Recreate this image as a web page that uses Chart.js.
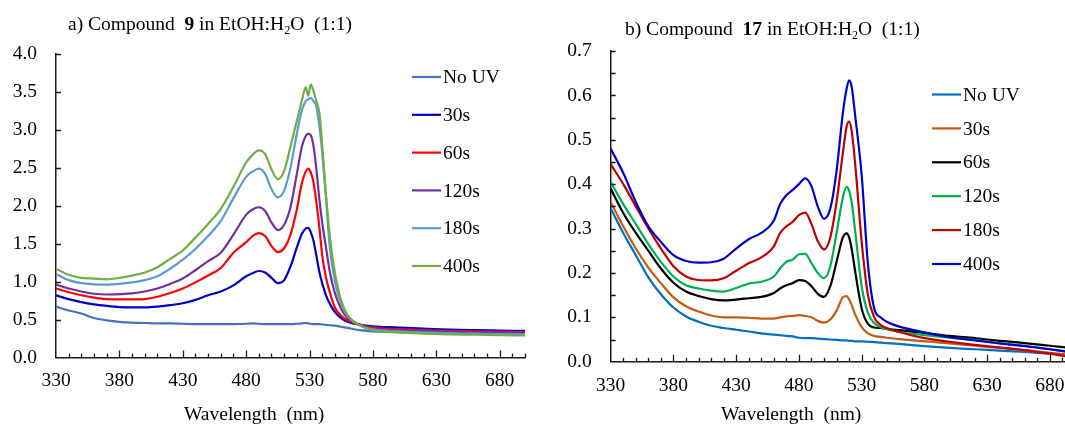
<!DOCTYPE html>
<html>
<head>
<meta charset="utf-8">
<script src="https://cdn.jsdelivr.net/npm/chart.js@4"></script>
<style>
  html, body { margin: 0; padding: 0; background: #fff; overflow: hidden; width: 1065px; height: 427px; }
  .panel { position: absolute; top: 0; height: 427px; }
  #wrapA { left: 0; width: 530px; }
  #wrapB { left: 525px; width: 555px; }
  .txt { position: absolute; font-family: 'Liberation Serif', 'Times New Roman', serif; font-size: 19.5px; color: #000; white-space: nowrap; line-height: 1; }
  .txt sub { font-size: 0.62em; vertical-align: -0.3em; line-height: 0; }
</style>
</head>
<body>
<div class="panel" id="wrapA"><canvas id="chartA" width="530" height="427"></canvas></div>
<div class="panel" id="wrapB"><canvas id="chartB" width="555" height="427"></canvas></div>

<div class="txt" style="left:68px; top:14px;">a) Compound&nbsp; <b>9</b> in EtOH:H<sub>2</sub>O&nbsp; (1:1)</div>
<div class="txt" style="left:625px; top:19px;">b) Compound&nbsp; <b>17</b> in EtOH:H<sub>2</sub>O&nbsp; (1:1)</div>
<div class="txt" style="left:184px; top:404px;">Wavelength&nbsp; (nm)</div>
<div class="txt" style="left:721px; top:404px;">Wavelength&nbsp; (nm)</div>

<script>
// ---- panel a: compound 9 ----
const wavelengthsA = [330, 340, 350, 360, 370, 380, 390, 400, 410, 420, 430, 440, 450, 460, 470, 480, 485, 490, 495, 500,
  505, 510, 515, 520, 524, 527, 529, 531, 533, 535, 538, 540, 543, 546, 550, 555, 560, 570, 580, 600, 620, 640, 660, 680, 700];
const noUvA = [0.67, 0.62, 0.58, 0.52, 0.49, 0.47, 0.46, 0.455, 0.45, 0.45, 0.445, 0.44, 0.44, 0.44, 0.44, 0.445, 0.45, 0.445, 0.44, 0.44,
  0.44, 0.44, 0.44, 0.445, 0.45, 0.455, 0.45, 0.445, 0.44, 0.44, 0.44, 0.435, 0.43, 0.425, 0.42, 0.405, 0.39, 0.36, 0.345, 0.335, 0.33, 0.325, 0.32, 0.315, 0.31];
const s30A = [0.82, 0.77, 0.73, 0.70, 0.68, 0.665, 0.66, 0.66, 0.67, 0.69, 0.715, 0.76, 0.82, 0.87, 0.95, 1.07, 1.11, 1.14, 1.12, 1.05,
  0.98, 1.02, 1.20, 1.45, 1.63, 1.70, 1.71, 1.65, 1.55, 1.38, 1.11, 0.98, 0.82, 0.71, 0.60, 0.52, 0.47, 0.43, 0.41, 0.395, 0.38, 0.367, 0.36, 0.355, 0.35];
const s60A = [0.91, 0.86, 0.82, 0.79, 0.77, 0.765, 0.765, 0.77, 0.80, 0.85, 0.91, 0.99, 1.08, 1.18, 1.38, 1.52, 1.60, 1.64, 1.60, 1.47,
  1.39, 1.44, 1.62, 1.95, 2.30, 2.45, 2.49, 2.44, 2.32, 2.10, 1.68, 1.35, 1.05, 0.86, 0.66, 0.55, 0.49, 0.43, 0.395, 0.375, 0.36, 0.35, 0.345, 0.34, 0.335];
const s120A = [0.96, 0.91, 0.87, 0.84, 0.83, 0.835, 0.845, 0.87, 0.91, 0.97, 1.04, 1.15, 1.27, 1.38, 1.62, 1.88, 1.95, 1.98, 1.93, 1.78,
  1.68, 1.75, 1.98, 2.42, 2.78, 2.92, 2.95, 2.93, 2.80, 2.55, 2.05, 1.78, 1.45, 1.13, 0.85, 0.64, 0.52, 0.43, 0.38, 0.36, 0.35, 0.34, 0.335, 0.33, 0.325];
const s180A = [1.10, 1.02, 0.98, 0.965, 0.96, 0.97, 0.99, 1.02, 1.07, 1.17, 1.29, 1.43, 1.60, 1.80, 2.10, 2.38, 2.45, 2.49, 2.42, 2.22,
  2.11, 2.20, 2.50, 2.95, 3.26, 3.38, 3.40, 3.42, 3.38, 3.33, 3.02, 2.70, 2.10, 1.45, 1.00, 0.70, 0.55, 0.42, 0.37, 0.345, 0.33, 0.32, 0.315, 0.31, 0.305];
const s400A = [1.17, 1.09, 1.05, 1.04, 1.03, 1.05, 1.08, 1.12, 1.19, 1.30, 1.41, 1.58, 1.76, 1.96, 2.25, 2.57, 2.67, 2.73, 2.68, 2.48,
  2.35, 2.46, 2.78, 3.12, 3.39, 3.56, 3.45, 3.60, 3.52, 3.40, 3.20, 2.80, 2.15, 1.60, 1.12, 0.75, 0.56, 0.42, 0.36, 0.33, 0.315, 0.305, 0.30, 0.295, 0.29];
const xTicksA = [330, 380, 430, 480, 530, 580, 630, 680];
const yTicksA = [0, 0.5, 1.0, 1.5, 2.0, 2.5, 3.0, 3.5, 4.0];

// ---- panel b: compound 17 ----
const wavelengthsB = [330, 340, 350, 360, 370, 380, 390, 400, 410, 420, 430, 440, 450, 460, 465, 470, 475, 480, 485, 490, 495, 500,
  505, 510, 515, 518, 520, 522, 525, 530, 535, 540, 545, 550, 560, 580, 600, 620, 640, 660, 680, 700];
const noUvB = [0.345, 0.29, 0.24, 0.19, 0.152, 0.122, 0.102, 0.09, 0.081, 0.076, 0.072, 0.068, 0.064, 0.061, 0.06, 0.058, 0.057, 0.054, 0.053, 0.053, 0.052, 0.051,
  0.05, 0.049, 0.048, 0.048, 0.047, 0.047, 0.046, 0.046, 0.045, 0.044, 0.043, 0.042, 0.04, 0.035, 0.031, 0.028, 0.025, 0.022, 0.018, 0.014];
const s30B = [0.36, 0.305, 0.255, 0.212, 0.177, 0.145, 0.125, 0.113, 0.104, 0.10, 0.10, 0.099, 0.097, 0.097, 0.10, 0.102, 0.103, 0.105, 0.103, 0.10, 0.092, 0.088,
  0.095, 0.115, 0.145, 0.148, 0.14, 0.128, 0.105, 0.078, 0.064, 0.058, 0.056, 0.054, 0.051, 0.046, 0.041, 0.036, 0.031, 0.026, 0.02, 0.014];
const s60B = [0.39, 0.335, 0.29, 0.25, 0.21, 0.178, 0.158, 0.148, 0.141, 0.138, 0.14, 0.143, 0.146, 0.155, 0.165, 0.172, 0.177, 0.184, 0.182, 0.17, 0.153, 0.146,
  0.17, 0.225, 0.28, 0.289, 0.28, 0.255, 0.20, 0.12, 0.085, 0.077, 0.076, 0.074, 0.071, 0.065, 0.058, 0.053, 0.047, 0.042, 0.036, 0.03];
const s120B = [0.405, 0.355, 0.31, 0.265, 0.225, 0.192, 0.172, 0.165, 0.16, 0.158, 0.166, 0.176, 0.18, 0.192, 0.21, 0.225, 0.23, 0.242, 0.243, 0.222, 0.20, 0.188,
  0.215, 0.29, 0.37, 0.394, 0.385, 0.36, 0.29, 0.17, 0.11, 0.087, 0.078, 0.073, 0.067, 0.06, 0.054, 0.049, 0.042, 0.036, 0.028, 0.02];
const s180B = [0.445, 0.40, 0.35, 0.30, 0.255, 0.215, 0.192, 0.184, 0.183, 0.188, 0.205, 0.222, 0.235, 0.26, 0.29, 0.305, 0.315, 0.33, 0.336, 0.31, 0.272, 0.253,
  0.28, 0.36, 0.47, 0.53, 0.541, 0.52, 0.44, 0.27, 0.15, 0.10, 0.083, 0.076, 0.067, 0.053, 0.045, 0.038, 0.032, 0.026, 0.018, 0.009];
const s400B = [0.48, 0.425, 0.36, 0.305, 0.27, 0.24, 0.227, 0.223, 0.224, 0.232, 0.255, 0.276, 0.29, 0.318, 0.355, 0.375, 0.387, 0.40, 0.413, 0.395, 0.35, 0.322,
  0.345, 0.43, 0.56, 0.615, 0.634, 0.62, 0.55, 0.42, 0.22, 0.12, 0.10, 0.09, 0.079, 0.066, 0.055, 0.048, 0.041, 0.035, 0.028, 0.02];
const xTicksB = [330, 380, 430, 480, 530, 580, 630, 680];
const yTicksB = [0, 0.1, 0.2, 0.3, 0.4, 0.5, 0.6, 0.7];

const seriesLabels = ['No UV', '30s', '60s', '120s', '180s', '400s'];
const FONT = "'Liberation Serif', 'Times New Roman', serif";
const AXIS = '#1a1a1a';

// ticks drawn on the inside of the axes, like the Excel original
const insideTicks = {
  id: 'insideTicks',
  afterDraw(chart, args, o) {
    const { ctx, chartArea, scales: { x, y } } = chart;
    ctx.save();
    ctx.strokeStyle = AXIS;
    ctx.lineWidth = 1.3;
    ctx.beginPath();
    const nx = Math.round((x.max - x.min) / o.xMinor);
    for (let i = 1; i <= nx; i++) {
      const px = Math.round(x.getPixelForValue(x.min + i * o.xMinor)) + 0.5;
      const len = (i * o.xMinor) % o.xMajor === 0 ? 7 : 4;
      ctx.moveTo(px, chartArea.bottom);
      ctx.lineTo(px, chartArea.bottom - len);
    }
    const ny = Math.round((y.max - y.min) / o.yStep);
    for (let j = 1; j <= ny; j++) {
      const py = Math.round(y.getPixelForValue(y.min + j * o.yStep)) + 0.5;
      ctx.moveTo(chartArea.left, py);
      ctx.lineTo(chartArea.left + 5, py);
    }
    ctx.stroke();
    ctx.restore();
  }
};

// legend drawn inside the plot on the right, in series order
const sideLegend = {
  id: 'sideLegend',
  afterDraw(chart, args, o) {
    const ctx = chart.ctx;
    ctx.save();
    ctx.font = '19.5px ' + FONT;
    ctx.textBaseline = 'middle';
    ctx.fillStyle = '#000';
    const items = chart.data.datasets.slice().reverse();
    items.forEach((ds, i) => {
      const y = o.top + i * o.gap;
      ctx.strokeStyle = ds.borderColor;
      ctx.lineWidth = 2.2;
      ctx.beginPath();
      ctx.moveTo(o.left, y);
      ctx.lineTo(o.left + o.len, y);
      ctx.stroke();
      ctx.fillText(ds.label, o.left + o.len + 2, y + 1);
    });
    ctx.restore();
  }
};

function makeDatasets(xs, arrays, colors) {
  return arrays.map((vals, i) => ({
    label: seriesLabels[i],
    data: vals.map((v, k) => ({ x: xs[k], y: v })),
    borderColor: colors[i],
    backgroundColor: colors[i],
    borderWidth: 2.2,
    pointRadius: 0,
    cubicInterpolationMode: 'monotone',
    fill: false
  }));
}

function makeChart(canvasId, datasets, cfg) {
  return new Chart(document.getElementById(canvasId), {
    type: 'line',
    // reversed so the last series (400s) ends up drawn on top, as in Excel
    data: { datasets: datasets.slice().reverse() },
    plugins: [insideTicks, sideLegend],
    options: {
      responsive: false,
      animation: false,
      events: [],
      layout: { padding: cfg.padding },
      plugins: {
        legend: { display: false },
        tooltip: { enabled: false },
        insideTicks: cfg.ticks,
        sideLegend: cfg.legend
      },
      scales: {
        x: {
          type: 'linear',
          min: 330,
          max: 700,
          afterBuildTicks: s => { s.ticks = cfg.xTicks.map(v => ({ value: v })); },
          afterFit: s => { s.height = cfg.xHeight; },
          grid: { display: true, drawOnChartArea: false, drawTicks: false },
          border: { display: true, color: AXIS, width: 1.5 },
          ticks: { font: { family: FONT, size: 19.5 }, color: '#000', padding: 12, maxRotation: 0, autoSkip: false }
        },
        y: {
          min: 0,
          max: cfg.yMax,
          afterBuildTicks: s => { s.ticks = cfg.yTicks.map(v => ({ value: v })); },
          afterFit: s => { s.width = cfg.yWidth; },
          grid: { display: true, drawOnChartArea: false, drawTicks: false },
          border: { display: true, color: AXIS, width: 1.5 },
          ticks: { font: { family: FONT, size: 19.5 }, color: '#000', padding: 19, callback: v => Number(v).toFixed(1) }
        }
      }
    }
  });
}

const dsA = makeDatasets(wavelengthsA, [noUvA, s30A, s60A, s120A, s180A, s400A],
  ['#4472C4', '#0000CC', '#FF0000', '#7030A0', '#5B9BD5', '#70AD47']);
const dsB = makeDatasets(wavelengthsB, [noUvB, s30B, s60B, s120B, s180B, s400B],
  ['#0070C0', '#C55A11', '#000000', '#00B050', '#C00000', '#0000CC']);

makeChart('chartA', dsA, {
  padding: { top: 54, right: 5, left: 0, bottom: 0 },
  xHeight: 69.5, yWidth: 56, yMax: 4, xTicks: xTicksA, yTicks: yTicksA,
  ticks: { xMinor: 10, xMajor: 50, yStep: 0.5 },
  legend: { left: 412, top: 77, gap: 37.8, len: 29 }
});
makeChart('chartB', dsB, {
  padding: { top: 51, right: 5, left: 0, bottom: 0 },
  xHeight: 65.3, yWidth: 85.7, yMax: 0.7, xTicks: xTicksB, yTicks: yTicksB,
  ticks: { xMinor: 10, xMajor: 50, yStep: 0.05 },
  legend: { left: 407, top: 94.5, gap: 33.9, len: 29 }
});
</script>
</body>
</html>
